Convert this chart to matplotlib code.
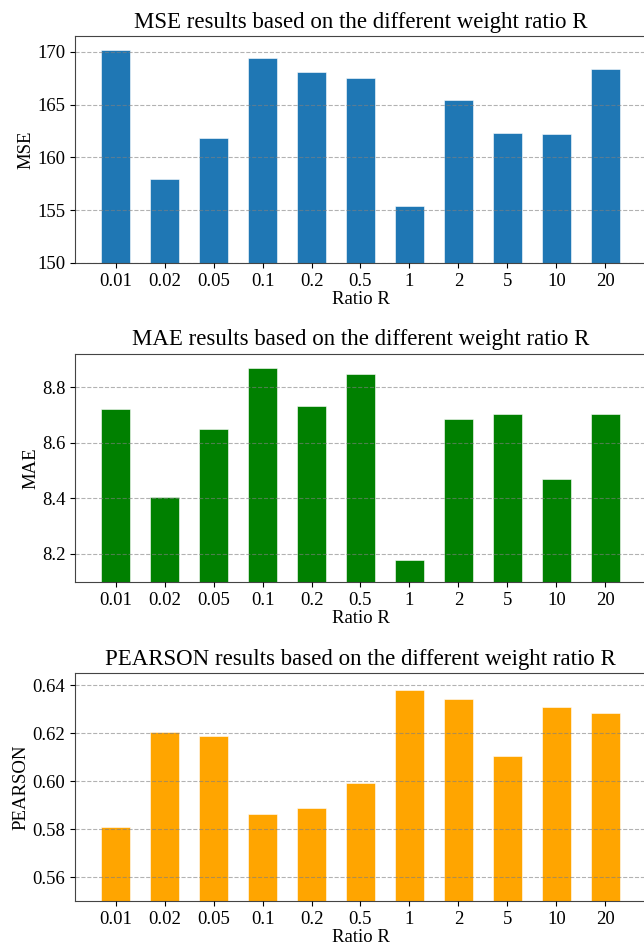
import matplotlib
matplotlib.use("Agg")
import matplotlib.pyplot as plt
import numpy as np

plt.rcParams['font.family'] = ['Liberation Serif', 'DejaVu Serif']

ratios = ['0.01', '0.02', '0.05', '0.1', '0.2', '0.5', '1', '2', '5', '10', '20']
mse = [170.15, 157.95, 161.8, 169.43, 168.1, 167.5, 155.4, 165.43, 162.33, 162.18, 168.39]
mae = [8.722, 8.406, 8.651, 8.868, 8.734, 8.848, 8.178, 8.686, 8.705, 8.471, 8.702]
pearson = [0.5807, 0.6205, 0.6189, 0.5862, 0.5887, 0.5994, 0.6379, 0.6342, 0.6105, 0.6312, 0.6286]

panels = [
    ('MSE', mse, '#1f77b4', (150, 171.5), [150, 155, 160, 165, 170], '{:.0f}'),
    ('MAE', mae, 'green', (8.1, 8.92), [8.2, 8.4, 8.6, 8.8], '{:.1f}'),
    ('PEARSON', pearson, 'orange', (0.55, 0.6452), [0.56, 0.58, 0.60, 0.62, 0.64], '{:.2f}'),
]

# axes boxes (left, bottom, width, height) in figure fraction
boxes = [
    (0.1165, 0.722, 0.8865, 0.240),
    (0.1165, 0.385, 0.8865, 0.241),
    (0.1165, 0.0476, 0.8865, 0.241),
]

fig = plt.figure(figsize=(6.44, 9.46), dpi=100)
x = np.arange(len(ratios))

for (name, vals, col, ylim, ticks, fmt), box in zip(panels, boxes):
    ax = fig.add_axes(box)
    ax.bar(x, vals, width=0.6, color=col, edgecolor='white', linewidth=0.4)
    ax.set_xticks(x)
    ax.set_xticklabels(ratios)
    ax.set_ylim(*ylim)
    ax.set_yticks(ticks)
    ax.set_yticklabels([fmt.format(t) for t in ticks])
    ax.tick_params(labelsize=13.5)
    ax.set_xlabel('Ratio R', fontsize=13.5, labelpad=1)
    ax.set_ylabel(name, fontsize=13.5, labelpad=2)
    ax.set_title(name + ' results based on the different weight ratio R', fontsize=16.5, pad=6)
    ax.set_axisbelow(False)
    ax.yaxis.grid(True, linestyle='--', color='gray', alpha=0.6, linewidth=0.8)
    for s in ax.spines.values():
        s.set_color('#444444')

fig.savefig('out.png', dpi=100)
